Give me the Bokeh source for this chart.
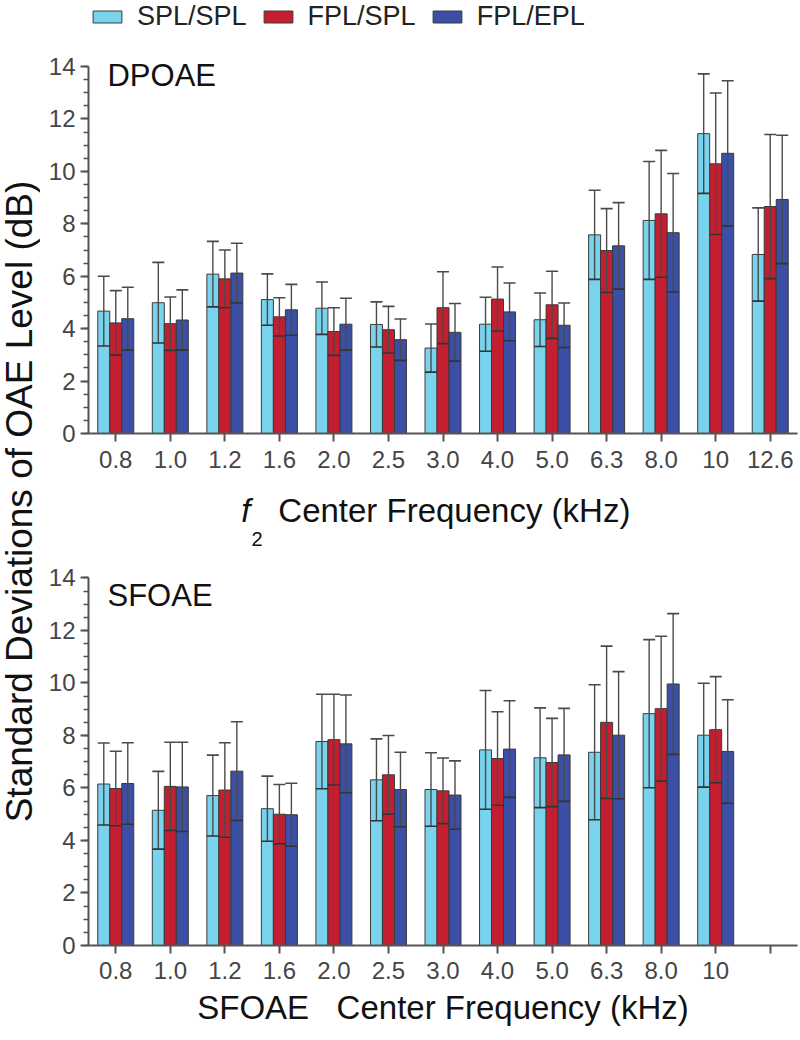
import numpy as np
from bokeh.plotting import figure
from bokeh.models import (ColumnDataSource, Range1d, FixedTicker, SingleIntervalTicker,
                          Whisker, TeeHead, Label, Legend, LegendItem)
from bokeh.layouts import row, column
from bokeh.embed import file_html
from bokeh.resources import INLINE

# ---------------- data ----------------
series_names = ["SPL/SPL", "FPL/SPL", "FPL/EPL"]

dp_freq = ["0.8", "1.0", "1.2", "1.6", "2.0", "2.5", "3.0", "4.0", "5.0", "6.3", "8.0", "10", "12.6"]
dp_spl_spl = [4.67, 4.99, 6.08, 5.11, 4.78, 4.16, 3.26, 4.17, 4.34, 7.58, 8.13, 11.44, 6.83]
dp_spl_spl_sd = [1.33, 1.54, 1.25, 0.98, 1.00, 0.86, 0.92, 1.03, 1.02, 1.70, 2.25, 2.28, 1.78]
dp_fpl_spl = [4.22, 4.19, 5.90, 4.45, 3.89, 3.96, 4.80, 5.13, 4.91, 6.98, 8.38, 10.29, 8.66]
dp_fpl_spl_sd = [1.23, 1.02, 1.10, 0.73, 0.91, 0.89, 1.37, 1.22, 1.28, 1.60, 2.42, 2.70, 2.75]
dp_fpl_epl = [4.38, 4.33, 6.12, 4.72, 4.17, 3.58, 3.86, 4.64, 4.13, 7.16, 7.66, 10.69, 8.93]
dp_fpl_epl_sd = [1.20, 1.15, 1.14, 0.97, 0.99, 0.79, 1.10, 1.10, 0.85, 1.65, 2.26, 2.77, 2.45]

sf_freq = ["0.8", "1.0", "1.2", "1.6", "2.0", "2.5", "3.0", "4.0", "5.0", "6.3", "8.0", "10"]
sf_tick_labels = sf_freq + [""]
sf_spl_spl = [6.15, 5.15, 5.71, 5.21, 7.77, 6.31, 5.94, 7.45, 7.15, 7.36, 8.83, 8.01]
sf_spl_spl_sd = [1.56, 1.48, 1.54, 1.24, 1.80, 1.56, 1.40, 2.26, 1.90, 2.57, 2.82, 1.98]
sf_fpl_spl = [5.98, 6.06, 5.92, 5.00, 7.84, 6.50, 5.89, 7.12, 6.97, 8.50, 9.02, 8.22]
sf_fpl_spl_sd = [1.42, 1.68, 1.80, 1.13, 1.73, 1.50, 1.25, 1.78, 1.68, 2.90, 2.76, 2.02]
sf_fpl_epl = [6.17, 6.04, 6.64, 4.98, 7.68, 5.94, 5.73, 7.48, 7.26, 8.01, 9.96, 7.39]
sf_fpl_epl_sd = [1.55, 1.70, 1.88, 1.20, 1.86, 1.42, 1.30, 1.84, 1.77, 2.42, 2.68, 1.97]

# ---------------- style ----------------
COLORS = ["#79D3EC", "#C41F30", "#3B4FA4"]
OFFSETS = [-0.22, 0.0, 0.22]
BAR_W = 0.22
FONT = "Liberation Sans"
AXIS_C = "#555555"
TICK_TXT = "#454545"
ERR_C = "#4a4a4a"
TXT_C = "#111111"
PW = 760
B_LEFT = 48
B_RIGHT = 3


def make_panel(height, y_top, b_bottom, tick_labels, means, sds):
    n_slots = len(tick_labels)
    p = figure(width=PW, height=height, output_backend="svg", toolbar_location=None,
               x_range=Range1d(-0.5, n_slots - 0.5), y_range=Range1d(0, y_top),
               min_border_left=B_LEFT, min_border_right=B_RIGHT,
               min_border_top=0, min_border_bottom=b_bottom)
    p.xgrid.visible = False
    p.ygrid.visible = False
    p.outline_line_color = None
    p.background_fill_color = "white"

    renderers = []
    for k in range(3):
        m = np.array(means[k], dtype=float)
        s = np.array(sds[k], dtype=float)
        x = np.arange(len(m)) + OFFSETS[k]
        src = ColumnDataSource(dict(x=x, top=m, upper=m + s, lower=m - s))
        r = p.vbar(x="x", top="top", bottom=0, width=BAR_W, source=src,
                   fill_color=COLORS[k], line_color="#3a3a3a", line_width=1)
        renderers.append(r)
        w = Whisker(source=src, base="x", upper="upper", lower="lower",
                    line_color=ERR_C, line_width=1.4, level="annotation",
                    upper_head=TeeHead(size=12, line_color=ERR_C, line_width=1.6),
                    lower_head=TeeHead(size=12, line_color="#333333", line_width=1.6))
        p.add_layout(w)

    for ax in (p.xaxis[0], p.yaxis[0]):
        ax.axis_line_color = AXIS_C
        ax.axis_line_width = 2
        ax.major_tick_line_color = AXIS_C
        ax.major_tick_line_width = 2
        ax.major_tick_out = 8
        ax.major_tick_in = 0
        ax.major_label_text_font = FONT
        ax.major_label_text_font_size = "24px"
        ax.major_label_text_color = TICK_TXT

    p.xaxis.ticker = FixedTicker(ticks=list(range(n_slots)))
    p.xaxis.major_label_overrides = {i: lab for i, lab in enumerate(tick_labels)}
    p.xaxis.minor_tick_line_color = None
    p.xaxis.major_label_standoff = 9

    p.yaxis.ticker = SingleIntervalTicker(interval=2, num_minor_ticks=4)
    p.yaxis.bounds = (0, 14)
    p.yaxis.minor_tick_line_color = AXIS_C
    p.yaxis.minor_tick_line_width = 1.5
    p.yaxis.minor_tick_out = 5
    p.yaxis.minor_tick_in = 0
    p.yaxis.major_label_standoff = 5
    return p, renderers


# ---------------- top panel (DPOAE) ----------------
top, top_r = make_panel(483, 16.52, 50, dp_freq,
                        [dp_spl_spl, dp_fpl_spl, dp_fpl_epl],
                        [dp_spl_spl_sd, dp_fpl_spl_sd, dp_fpl_epl_sd])

legend = Legend(items=[LegendItem(label=n, renderers=[r]) for n, r in zip(series_names, top_r)],
                orientation="horizontal", location="top_left",
                glyph_width=36, glyph_height=15, label_standoff=12, spacing=13,
                padding=0, margin=1, border_line_color=None, background_fill_alpha=0,
                label_text_font=FONT, label_text_font_size="27px", label_text_color="#222222")
top.add_layout(legend)

top.add_layout(Label(x=-0.152, y=13.64, text="DPOAE", text_font=FONT, text_font_size="31px",
                     text_color=TXT_C, text_baseline="alphabetic"))

# ---------------- top x-axis title strip (same horizontal frame as the panels) ----------------
strip = figure(width=PW, height=65, output_backend="svg", toolbar_location=None,
               x_range=Range1d(-0.5, len(dp_freq) - 0.5), y_range=Range1d(0, 65),
               min_border_left=B_LEFT, min_border_right=B_RIGHT,
               min_border_top=0, min_border_bottom=0,
               x_axis_type=None, y_axis_type=None)
strip.grid.visible = False
strip.outline_line_color = None
strip.add_layout(Label(x=2.30, y=38, text="f", text_font=FONT, text_font_style="italic",
                       text_font_size="33px", text_color=TXT_C, text_baseline="alphabetic"))
strip.add_layout(Label(x=2.49, y=10, text="2", text_font=FONT,
                       text_font_size="20px", text_color=TXT_C, text_baseline="alphabetic"))
strip.add_layout(Label(x=2.98, y=38, text="Center Frequency (kHz)", text_font=FONT,
                       text_font_size="33px", text_color=TXT_C, text_baseline="alphabetic"))

# ---------------- bottom panel (SFOAE) ----------------
bot, _ = make_panel(492, 15.12, 95, sf_tick_labels,
                    [sf_spl_spl, sf_fpl_spl, sf_fpl_epl],
                    [sf_spl_spl_sd, sf_fpl_spl_sd, sf_fpl_epl_sd])
bot.xaxis.major_label_standoff = 8
bot.add_layout(Label(x=-0.152, y=13.33, text="SFOAE", text_font=FONT, text_font_size="31px",
                     text_color=TXT_C, text_baseline="alphabetic"))
bot.xaxis.axis_label = "SFOAE\u00a0\u00a0\u00a0Center Frequency (kHz)"
bot.xaxis.axis_label_text_font = FONT
bot.xaxis.axis_label_text_font_size = "33px"
bot.xaxis.axis_label_text_font_style = "normal"
bot.xaxis.axis_label_text_color = TXT_C
bot.xaxis.axis_label_standoff = 7

# ---------------- shared y label ----------------
lab = figure(width=40, height=1040, output_backend="svg", toolbar_location=None,
             x_range=Range1d(0, 40), y_range=Range1d(0, 1040), min_border=0,
             x_axis_type=None, y_axis_type=None)
lab.grid.visible = False
lab.outline_line_color = None
lab.add_layout(Label(x=19, y=539, text="Standard Deviations of OAE Level (dB)", angle=np.pi / 2,
                     text_align="center", text_baseline="middle", text_font=FONT,
                     text_font_size="37px", text_color=TXT_C))

layout = row(lab, column(top, strip, bot))
open("out.html", "w").write(file_html(layout, INLINE))
